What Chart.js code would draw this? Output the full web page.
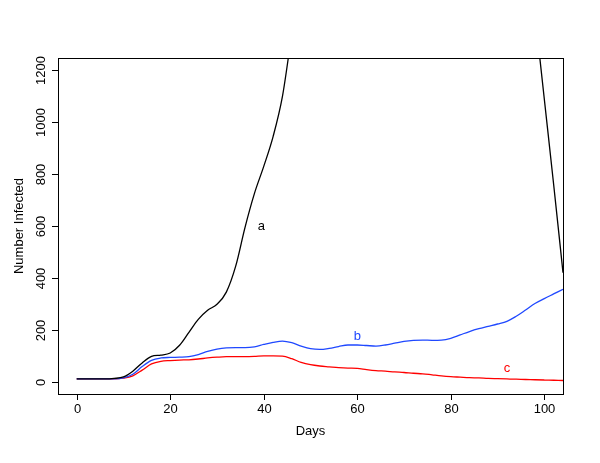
<!DOCTYPE html>
<html>
<head>
<meta charset="utf-8">
<script src="https://cdn.jsdelivr.net/npm/chart.js@4/dist/chart.umd.min.js"></script>
<style>
  html, body { margin:0; padding:0; background:#fff; }
  #wrap { width:600px; height:463px; }
</style>
</head>
<body>
<div id="wrap"><canvas id="c" width="600" height="463"></canvas></div>
<script>
/* ---- data ---- */
const days = [0,2,4,6,8,10,12,14,16,18,20,22,24,26,28,30,32,34,36,38,40,42,44,46,48,50,
  52,54,56,58,60,62,64,66,68,70,72,74,76,78,80,82,84,86,88,90,92,94,96,98,100,102,104];

const seriesA = [10,10,10,10,12,18,40,72,97,102,110,140,190,240,275,298,345,445,595,725,830,945,1100,1340,1560,1800,
  2080,2450,2850,3250,3650,4000,4300,4500,4650,4700,4650,4550,4400,4200,4000,3750,3500,3250,2980,2700,2400,2080,1750,1420,1090,760,420];

const seriesB = [10,10,10,10,10,14,28,58,82,91,93,94,96,104,116,125,130,131,131,134,143,151,156,150,137,127,
  124,128,135,141,141,139,137,141,148,155,159,160,159,160,167,180,193,204,213,222,232,252,276,301,320,338,356];

const seriesC = [10,10,10,10,10,13,22,44,68,78,81,83,84,87,91,94,96,96,96,97,99,99,98,88,74,65,
  60,57,54,52,51,46,42,40,37,35,32,30,26,22,19,17,15,14,12,11,10,9,8,7,6,5,4];

const xTicks = [0,20,40,60,80,100];
const yTicks = [0,200,400,600,800,1000,1200];

// curve labels: [text, day, value]
const notes = [['a',39.5,600],['b',60,175],['c',92,50]];

const COL = { a:'#000000', b:'#1f48ff', c:'#ff0000' };
const FONT = "'Liberation Sans', Arial, Helvetica, sans-serif";

const pts = s => days.map((d,i)=>({x:d, y:s[i]}));
const line = (s,col) => ({ data:pts(s), borderColor:col, borderWidth:1.3, pointRadius:0,
  fill:false, cubicInterpolationMode:'monotone' });

/* ---- R style frame, ticks and labels ---- */
const frame = {
  id:'frame',
  afterDatasetsDraw(chart) {
    const {ctx, chartArea:a, scales:{x, y}} = chart;
    ctx.save();
    ctx.strokeStyle = '#000'; ctx.lineWidth = 1;
    ctx.strokeRect(a.left+0.5, a.top+0.5, a.right-a.left, a.bottom-a.top);

    ctx.font = '13px ' + FONT; ctx.fillStyle = '#000';
    ctx.textAlign = 'center'; ctx.textBaseline = 'middle';
    xTicks.forEach(v => {
      const px = Math.round(x.getPixelForValue(v)) + 0.5;
      ctx.beginPath(); ctx.moveTo(px, a.bottom); ctx.lineTo(px, a.bottom+6); ctx.stroke();
      ctx.fillText(String(v), px, a.bottom+15);
    });
    yTicks.forEach(v => {
      const py = Math.round(y.getPixelForValue(v)) + 0.5;
      ctx.beginPath(); ctx.moveTo(a.left-6, py); ctx.lineTo(a.left, py); ctx.stroke();
      ctx.save(); ctx.translate(a.left-17, py); ctx.rotate(-Math.PI/2);
      ctx.fillText(String(v), 0, 0); ctx.restore();
    });

    ctx.fillText('Days', (a.left+a.right)/2, a.bottom+37);
    ctx.save(); ctx.translate(19, (a.top+a.bottom)/2); ctx.rotate(-Math.PI/2);
    ctx.fillText('Number Infected', 0, 0); ctx.restore();

    notes.forEach(([t,d,v]) => {
      ctx.fillStyle = COL[t];
      ctx.fillText(t, x.getPixelForValue(d), y.getPixelForValue(v));
    });
    ctx.restore();
  }
};

new Chart(document.getElementById('c'), {
  type:'line',
  data:{ datasets:[ line(seriesA, COL.a), line(seriesB, COL.b), line(seriesC, COL.c) ] },
  options:{
    responsive:false, animation:false,
    layout:{ padding:{ left:58, top:58, right:37, bottom:69 } },
    scales:{
      x:{ type:'linear', min:-4, max:104, display:false },
      y:{ type:'linear', min:-48, max:1248, display:false }
    },
    plugins:{ legend:{display:false}, tooltip:{enabled:false} }
  },
  plugins:[frame]
});
</script>
</body>
</html>
